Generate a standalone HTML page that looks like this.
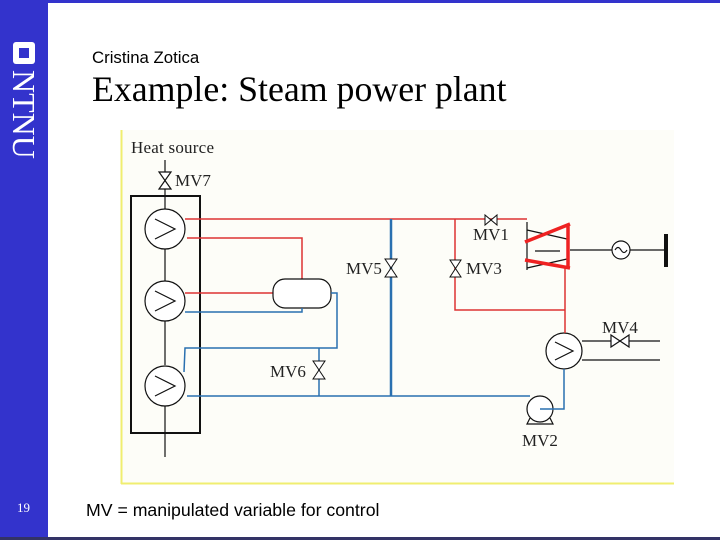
<!DOCTYPE html>
<html><head><meta charset="utf-8"><style>
body{margin:0;width:720px;height:540px;overflow:hidden;background:#fff;position:relative;font-family:"Liberation Sans",sans-serif}
.side{position:absolute;left:0;top:0;width:48px;height:540px;background:#3333cc}
.top{position:absolute;left:0;top:0;width:720px;height:3px;background:#3333cc}
.bot{position:absolute;left:0;top:537px;width:720px;height:3px;background:#333366}
</style></head><body>
<div class="side"></div><div class="top"></div><div class="bot"></div>
<div style="position:absolute;left:13px;top:42px;width:22px;height:22px;background:#fff;border-radius:3px"></div>
<div style="position:absolute;left:19px;top:48px;width:10px;height:10px;background:#3333cc"></div>
<div style="position:absolute;left:10px;top:70px;width:28px;height:100px;color:#fff;font-family:'Liberation Serif',serif;font-size:32px;writing-mode:vertical-rl;line-height:28px">NTNU</div>
<div style="position:absolute;left:17px;top:500px;color:#fff;font-family:'Liberation Serif',serif;font-size:13px">19</div>
<div style="position:absolute;left:92px;top:48px;font-size:16.8px">Cristina Zotica</div>
<div style="position:absolute;left:92px;top:68px;font-family:'Liberation Serif',serif;font-size:35.8px">Example: Steam power plant</div>
<div style="position:absolute;left:86px;top:500px;font-size:17.7px">MV = manipulated variable for control</div>
<svg width="720" height="540" style="position:absolute;left:0;top:0" font-family="Liberation Serif,serif" font-size="17" fill="none">
<rect x="122" y="130" width="552" height="353" fill="#fdfdf8"/>
<line x1="121.5" y1="130" x2="121.5" y2="484" stroke="#f0ee70" stroke-width="2"/>
<line x1="121" y1="483.5" x2="674" y2="483.5" stroke="#f0ee70" stroke-width="2"/>
<g fill="#222" stroke="none">
<text x="131" y="153" textLength="83">Heat source</text><text x="175" y="186">MV7</text>
<text x="346" y="274">MV5</text><text x="466" y="274">MV3</text><text x="473" y="240">MV1</text>
<text x="270" y="377">MV6</text><text x="602" y="333">MV4</text><text x="522" y="446">MV2</text>
</g>
<g stroke="#111" stroke-width="1.2">
<line x1="165" y1="160" x2="165" y2="210"/>
<path d="M159,172 L171,172 L159,189 L171,189 Z" fill="#fff"/>
<rect x="131" y="196" width="69" height="237" stroke-width="2"/>
<line x1="165" y1="249" x2="165" y2="281"/><line x1="165" y1="321" x2="165" y2="365"/><line x1="165" y1="405" x2="165" y2="457"/>
<circle cx="165" cy="229" r="20" fill="#fff"/><circle cx="165" cy="301" r="20" fill="#fff"/><circle cx="165" cy="386" r="20" fill="#fff"/>
<path d="M155,219 L175,229 L155,239 M155,291 L175,301 L155,311 M155,376 L175,386 L155,396"/>
<line x1="570" y1="250" x2="666" y2="250"/>
<circle cx="621" cy="250" r="9" fill="#fff"/>
<path d="M615,250 q3,-5 6,0 q3,5 6,0"/>
<line x1="666" y1="234" x2="666" y2="267" stroke-width="4"/>
<path d="M527,222 L527,270 M527,230 L567,239 M527,268 L567,259 M535,251 L560,251"/>
<line x1="582" y1="341" x2="660" y2="341"/><path d="M611,335 L611,347 L629,335 L629,347 Z" fill="#fff"/>
<line x1="582" y1="360" x2="660" y2="360"/>
<circle cx="564" cy="351" r="18" fill="#fff"/><path d="M555,342 L573,351 L555,360"/>
<circle cx="540" cy="409" r="13" fill="#fff"/><path d="M530,418 L527,424 L553,424 L550,418"/>
</g>
<g stroke="#d33" stroke-width="1.5">
<path d="M185,219 L527,219"/><path d="M187,238 L302,238 L302,279"/><path d="M185,293 L273,293"/>
<path d="M455,219 L455,310 L565,310"/><path d="M565,268 L565,333"/>
</g>
<path d="M485,215 L485,225 L497,215 L497,225 Z" fill="#fff" stroke="#111"/>
<path d="M450,260 L461,260 L450,277 L461,277 Z" fill="#fff" stroke="#111"/>
<g stroke="#e22" stroke-width="3.5"><path d="M525,242 L570,224 M525,260 L570,268 M568,224 L568,268"/></g>
<g stroke="#2a70b0" stroke-width="1.5">
<rect x="273" y="279" width="58" height="29" rx="12" fill="#fff" stroke="#111" stroke-width="1.2"/>
<path d="M185,312 L302,312 L302,308"/>
<path d="M184,372 L185,348 L337,348 L337,293 L331,293"/>
<path d="M319,396 L319,348"/>
<path d="M187,396 L530,396"/>
<path d="M391,219 L391,396" stroke-width="2.5"/>
<path d="M564,369 L564,409 L540,409"/>
</g>
<path d="M313,361 L325,361 L313,379 L325,379 Z" fill="#fff" stroke="#111"/>
<path d="M385,259 L397,259 L385,277 L397,277 Z" fill="#fff" stroke="#111"/>
</svg>
</body></html>
